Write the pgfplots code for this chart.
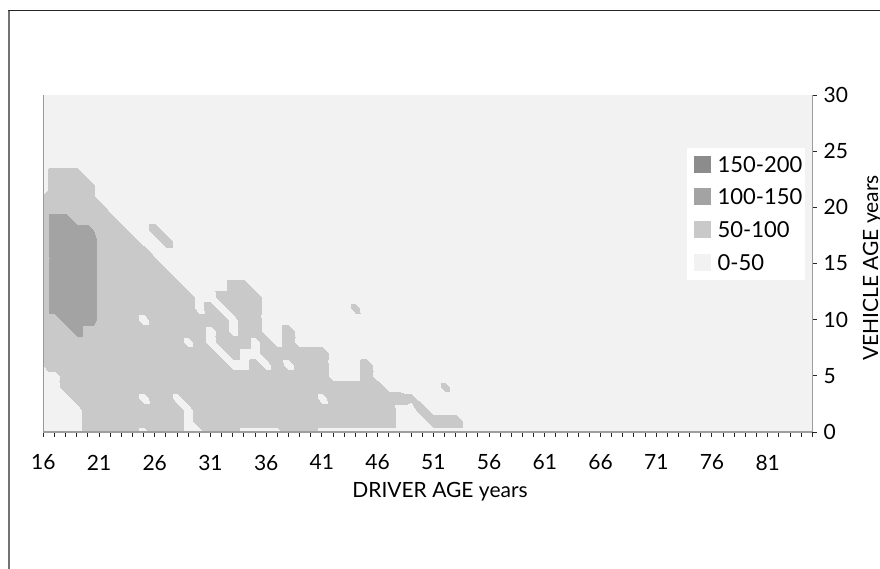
\documentclass[border=0pt]{standalone}
\usepackage{pgfplots}
\pgfplotsset{compat=1.18}
\usepackage{fontspec}
\setmainfont{Lato}
\definecolor{cA}{HTML}{F2F2F2}
\definecolor{cB}{HTML}{C9C9C9}
\definecolor{cC}{HTML}{A3A3A3}
\definecolor{cD}{HTML}{8C8C8C}
\begin{document}
\begin{tikzpicture}
\path[use as bounding box] (0,0) rectangle (440bp,-284.5bp);
\begin{axis}[
  at={(21.65bp,-216bp)}, anchor=south west,
  scale only axis, width=384.5bp, height=168.5bp,
  xmin=16, xmax=85, ymin=0, ymax=30,
  axis on top,
  axis background/.style={fill=cA},
  axis x line*=bottom, axis y line*=right,
  axis line style={draw=black!38, line width=0.6bp},
  xtick={16,21,...,81}, minor xtick={16,...,85},
  ytick={0,5,...,30},
  tick align=outside,
  major tick length=2.25bp, minor tick length=2.25bp,
  tick style={draw=black!85, line width=0.5bp},
  ticklabel style={font=\fontsize{10.5bp}{12bp}\selectfont},
  /pgf/number format/assume math mode=true,
  xticklabel style={anchor=north, inner sep=0pt, yshift=-9bp},
  yticklabel style={anchor=west, inner sep=0pt, xshift=3.2bp},
  colormap={gr}{color(0)=(cA) color(1)=(cB) color(2)=(cC) color(3)=(cC)},
  colormap access=piecewise constant,
  point meta min=0, point meta max=150,
]
\addplot[surf, shader=interp, mesh/cols=40, mesh/rows=25, point meta=explicit]
 table[header=false, row sep=\\, x expr={16+mod(\coordindex,40)}, y expr={floor(\coordindex/40)}, meta index=0] {
30\\30\\30\\30\\75\\75\\75\\75\\75\\30\\
75\\75\\75\\30\\30\\75\\75\\75\\30\\30\\
30\\30\\75\\75\\75\\30\\30\\30\\30\\30\\
30\\30\\30\\30\\30\\30\\30\\30\\30\\30\\
30\\30\\30\\30\\75\\75\\75\\75\\75\\75\\
75\\75\\75\\30\\75\\75\\75\\75\\75\\75\\
75\\75\\75\\75\\75\\75\\75\\75\\75\\75\\
75\\75\\30\\30\\30\\75\\75\\75\\30\\30\\
30\\30\\30\\30\\75\\75\\75\\75\\75\\75\\
75\\75\\75\\30\\75\\75\\75\\75\\75\\75\\
75\\75\\75\\75\\75\\75\\75\\75\\75\\75\\
75\\75\\30\\30\\75\\30\\30\\30\\30\\30\\
30\\30\\30\\75\\75\\75\\75\\75\\75\\30\\
75\\75\\30\\75\\75\\75\\75\\75\\75\\75\\
75\\75\\75\\75\\75\\30\\75\\75\\75\\75\\
75\\75\\75\\62\\30\\30\\30\\30\\30\\30\\
30\\30\\75\\75\\75\\75\\75\\75\\75\\75\\
75\\75\\75\\75\\75\\75\\75\\75\\75\\75\\
75\\75\\75\\75\\75\\75\\75\\75\\75\\75\\
75\\30\\30\\30\\30\\30\\62\\30\\30\\30\\
30\\30\\75\\75\\75\\75\\75\\75\\75\\75\\
75\\75\\75\\75\\75\\75\\75\\75\\75\\75\\
75\\75\\75\\75\\75\\75\\30\\30\\30\\75\\
30\\30\\30\\30\\30\\30\\30\\30\\30\\30\\
30\\75\\75\\75\\75\\75\\75\\75\\75\\75\\
75\\75\\75\\75\\75\\75\\75\\30\\30\\75\\
30\\75\\30\\75\\75\\75\\30\\30\\30\\75\\
30\\30\\30\\30\\30\\30\\30\\30\\30\\30\\
75\\75\\75\\75\\75\\75\\75\\75\\75\\75\\
75\\75\\75\\75\\75\\75\\30\\75\\30\\30\\
75\\75\\75\\75\\75\\75\\30\\30\\30\\30\\
30\\30\\30\\30\\30\\30\\30\\30\\30\\30\\
75\\75\\75\\75\\75\\75\\75\\75\\75\\75\\
75\\75\\75\\30\\75\\30\\75\\75\\75\\30\\
75\\30\\75\\30\\30\\30\\30\\30\\30\\30\\
30\\30\\30\\30\\30\\30\\30\\30\\30\\30\\
75\\75\\75\\125\\75\\75\\75\\75\\75\\75\\
75\\75\\75\\75\\75\\30\\75\\30\\75\\75\\
30\\30\\75\\30\\30\\30\\30\\30\\30\\30\\
30\\30\\30\\30\\30\\30\\30\\30\\30\\30\\
75\\75\\125\\125\\125\\92\\75\\75\\75\\30\\
75\\75\\75\\75\\75\\75\\75\\30\\75\\75\\
30\\30\\30\\30\\30\\30\\30\\30\\30\\30\\
30\\30\\30\\30\\30\\30\\30\\30\\30\\30\\
75\\125\\125\\125\\125\\92\\75\\75\\75\\75\\
75\\75\\75\\75\\30\\75\\30\\75\\75\\75\\
30\\30\\30\\30\\30\\30\\30\\30\\65\\30\\
30\\30\\30\\30\\30\\30\\30\\30\\30\\30\\
75\\125\\125\\125\\125\\92\\75\\75\\75\\75\\
75\\75\\75\\75\\30\\30\\75\\75\\75\\75\\
30\\30\\30\\30\\30\\30\\30\\30\\30\\30\\
30\\30\\30\\30\\30\\30\\30\\30\\30\\30\\
75\\125\\125\\125\\125\\92\\75\\75\\75\\75\\
75\\75\\75\\30\\30\\30\\30\\75\\75\\30\\
30\\30\\30\\30\\30\\30\\30\\30\\30\\30\\
30\\30\\30\\30\\30\\30\\30\\30\\30\\30\\
75\\125\\125\\125\\125\\92\\75\\75\\75\\75\\
75\\75\\30\\30\\30\\30\\30\\30\\30\\30\\
30\\30\\30\\30\\30\\30\\30\\30\\30\\30\\
30\\30\\30\\30\\30\\30\\30\\30\\30\\30\\
75\\125\\125\\125\\125\\92\\75\\75\\75\\75\\
75\\30\\30\\30\\30\\30\\30\\30\\30\\30\\
30\\30\\30\\30\\30\\30\\30\\30\\30\\30\\
30\\30\\30\\30\\30\\30\\30\\30\\30\\30\\
75\\125\\125\\125\\125\\92\\75\\75\\75\\75\\
30\\30\\30\\30\\30\\30\\30\\30\\30\\30\\
30\\30\\30\\30\\30\\30\\30\\30\\30\\30\\
30\\30\\30\\30\\30\\30\\30\\30\\30\\30\\
75\\125\\125\\125\\125\\92\\75\\75\\75\\30\\
30\\75\\30\\30\\30\\30\\30\\30\\30\\30\\
30\\30\\30\\30\\30\\30\\30\\30\\30\\30\\
30\\30\\30\\30\\30\\30\\30\\30\\30\\30\\
75\\125\\125\\125\\125\\75\\75\\75\\30\\30\\
75\\30\\30\\30\\30\\30\\30\\30\\30\\30\\
30\\30\\30\\30\\30\\30\\30\\30\\30\\30\\
30\\30\\30\\30\\30\\30\\30\\30\\30\\30\\
75\\125\\125\\75\\75\\75\\75\\30\\30\\30\\
30\\30\\30\\30\\30\\30\\30\\30\\30\\30\\
30\\30\\30\\30\\30\\30\\30\\30\\30\\30\\
30\\30\\30\\30\\30\\30\\30\\30\\30\\30\\
75\\75\\75\\75\\75\\75\\30\\30\\30\\30\\
30\\30\\30\\30\\30\\30\\30\\30\\30\\30\\
30\\30\\30\\30\\30\\30\\30\\30\\30\\30\\
30\\30\\30\\30\\30\\30\\30\\30\\30\\30\\
75\\75\\75\\75\\75\\30\\30\\30\\30\\30\\
30\\30\\30\\30\\30\\30\\30\\30\\30\\30\\
30\\30\\30\\30\\30\\30\\30\\30\\30\\30\\
30\\30\\30\\30\\30\\30\\30\\30\\30\\30\\
30\\75\\75\\75\\75\\30\\30\\30\\30\\30\\
30\\30\\30\\30\\30\\30\\30\\30\\30\\30\\
30\\30\\30\\30\\30\\30\\30\\30\\30\\30\\
30\\30\\30\\30\\30\\30\\30\\30\\30\\30\\
30\\75\\75\\75\\30\\30\\30\\30\\30\\30\\
30\\30\\30\\30\\30\\30\\30\\30\\30\\30\\
30\\30\\30\\30\\30\\30\\30\\30\\30\\30\\
30\\30\\30\\30\\30\\30\\30\\30\\30\\30\\
30\\30\\30\\30\\30\\30\\30\\30\\30\\30\\
30\\30\\30\\30\\30\\30\\30\\30\\30\\30\\
30\\30\\30\\30\\30\\30\\30\\30\\30\\30\\
30\\30\\30\\30\\30\\30\\30\\30\\30\\30\\
};
\end{axis}
% left edge of the plot area
\draw[black!40, line width=0.6bp] (21.65bp,-47.5bp) -- (21.65bp,-216bp);
% frame
\draw[black!85, line width=0.8bp] (4bp,-5.25bp) -- (440bp,-5.25bp);
\draw[black!55, line width=0.7bp] (4.4bp,-5.25bp) -- (4.4bp,-284.5bp);
% axis titles
\node[font=\fontsize{10.5bp}{12bp}\selectfont, anchor=base, inner sep=0pt] at (220bp,-248.5bp) {DRIVER AGE years};
\node[font=\fontsize{10.5bp}{12bp}\selectfont, anchor=base, inner sep=0pt, rotate=90] at (439bp,-134bp) {VEHICLE AGE years};
% legend
\fill[white] (343.35bp,-74.15bp) rectangle (402.5bp,-140bp);
\fill[cD] (347bp,-78bp) rectangle (355.35bp,-86.35bp);
\fill[cC] (347bp,-94bp) rectangle (355.35bp,-102.5bp);
\fill[cB] (347bp,-110.5bp) rectangle (355.35bp,-119bp);
\fill[cA] (347bp,-127bp) rectangle (355.35bp,-135.5bp);
\begin{scope}[every node/.style={font=\fontsize{11bp}{13bp}\selectfont, anchor=base west, inner sep=0pt}]
\node at (358.65bp,-86.15bp) {150-200};
\node at (358.65bp,-102.25bp) {100-150};
\node at (358.65bp,-118.75bp) {50-100};
\node at (358.65bp,-135.25bp) {0-50};
\end{scope}
\end{tikzpicture}
\end{document}
